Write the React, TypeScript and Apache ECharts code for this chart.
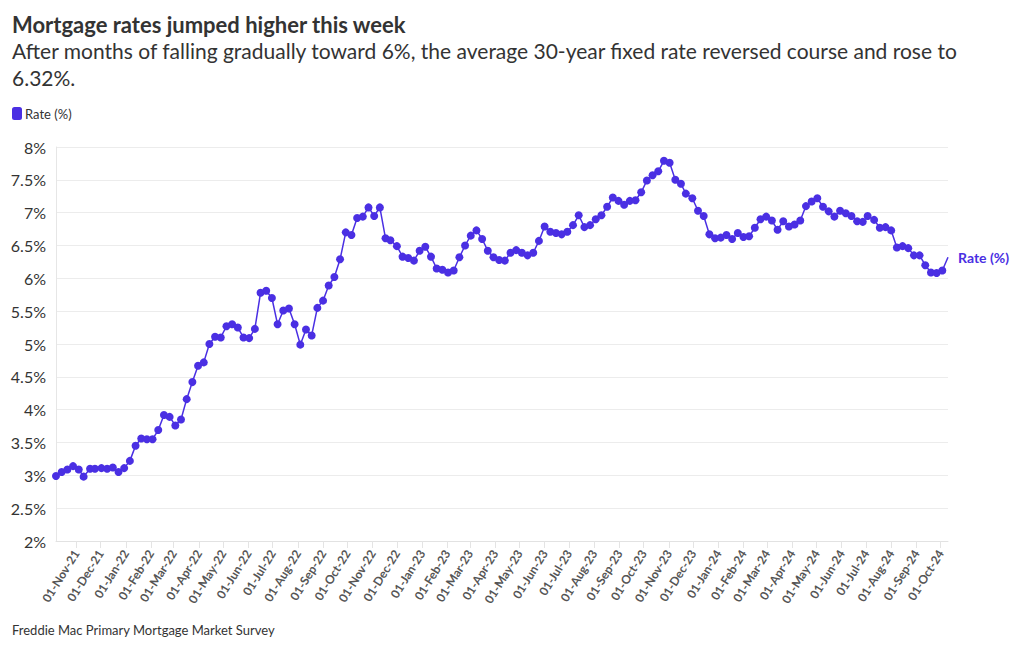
import React, { useEffect, useRef } from "react";
import * as echarts from "echarts";

const TITLE = "Mortgage rates jumped higher this week";
const SUBTITLE =
  "After months of falling gradually toward 6%, the average 30-year fixed rate reversed course and rose to\n6.32%.";
const SOURCE = "Freddie Mac Primary Mortgage Market Survey";
const SERIES_NAME = "Rate (%)";

const dates2021 = ["2021-10-07", "2021-10-14", "2021-10-21", "2021-10-28", "2021-11-04", "2021-11-10", "2021-11-18", "2021-11-24", "2021-12-02", "2021-12-09", "2021-12-16", "2021-12-23", "2021-12-30"];
const rates2021 = [2.99, 3.05, 3.09, 3.14, 3.09, 2.98, 3.1, 3.1, 3.11, 3.1, 3.12, 3.05, 3.11];

const dates2022 = ["2022-01-06", "2022-01-13", "2022-01-20", "2022-01-27", "2022-02-03", "2022-02-10", "2022-02-17", "2022-02-24", "2022-03-03", "2022-03-10", "2022-03-17", "2022-03-24", "2022-03-31", "2022-04-07", "2022-04-14", "2022-04-21", "2022-04-28", "2022-05-05", "2022-05-12", "2022-05-19", "2022-05-26", "2022-06-02", "2022-06-09", "2022-06-16", "2022-06-23", "2022-06-30", "2022-07-07", "2022-07-14", "2022-07-21", "2022-07-28", "2022-08-04", "2022-08-11", "2022-08-18", "2022-08-25", "2022-09-01", "2022-09-08", "2022-09-15", "2022-09-22", "2022-09-29", "2022-10-06", "2022-10-13", "2022-10-20", "2022-10-27", "2022-11-03", "2022-11-10", "2022-11-17", "2022-11-23", "2022-12-01", "2022-12-08", "2022-12-15", "2022-12-22", "2022-12-29"];
const rates2022 = [3.22, 3.45, 3.56, 3.55, 3.55, 3.69, 3.92, 3.89, 3.76, 3.85, 4.16, 4.42, 4.67, 4.72, 5.0, 5.11, 5.1, 5.27, 5.3, 5.25, 5.1, 5.09, 5.23, 5.78, 5.81, 5.7, 5.3, 5.51, 5.54, 5.3, 4.99, 5.22, 5.13, 5.55, 5.66, 5.89, 6.02, 6.29, 6.7, 6.66, 6.92, 6.94, 7.08, 6.95, 7.08, 6.61, 6.58, 6.49, 6.33, 6.31, 6.27, 6.42];

const dates2023 = ["2023-01-05", "2023-01-12", "2023-01-19", "2023-01-26", "2023-02-02", "2023-02-09", "2023-02-16", "2023-02-23", "2023-03-02", "2023-03-09", "2023-03-16", "2023-03-23", "2023-03-30", "2023-04-06", "2023-04-13", "2023-04-20", "2023-04-27", "2023-05-04", "2023-05-11", "2023-05-18", "2023-05-25", "2023-06-01", "2023-06-08", "2023-06-15", "2023-06-22", "2023-06-29", "2023-07-06", "2023-07-13", "2023-07-20", "2023-07-27", "2023-08-03", "2023-08-10", "2023-08-17", "2023-08-24", "2023-08-31", "2023-09-07", "2023-09-14", "2023-09-21", "2023-09-28", "2023-10-05", "2023-10-12", "2023-10-19", "2023-10-26", "2023-11-02", "2023-11-09", "2023-11-16", "2023-11-22", "2023-11-30", "2023-12-07", "2023-12-14", "2023-12-21", "2023-12-28"];
const rates2023 = [6.48, 6.33, 6.15, 6.13, 6.09, 6.12, 6.32, 6.5, 6.65, 6.73, 6.6, 6.42, 6.32, 6.28, 6.27, 6.39, 6.43, 6.39, 6.35, 6.39, 6.57, 6.79, 6.71, 6.69, 6.67, 6.71, 6.81, 6.96, 6.78, 6.81, 6.9, 6.96, 7.09, 7.23, 7.18, 7.12, 7.18, 7.19, 7.31, 7.49, 7.57, 7.63, 7.79, 7.76, 7.5, 7.44, 7.29, 7.22, 7.03, 6.95, 6.67, 6.61];

const dates2024 = ["2024-01-04", "2024-01-11", "2024-01-18", "2024-01-25", "2024-02-01", "2024-02-08", "2024-02-15", "2024-02-22", "2024-02-29", "2024-03-07", "2024-03-14", "2024-03-21", "2024-03-28", "2024-04-04", "2024-04-11", "2024-04-18", "2024-04-25", "2024-05-02", "2024-05-09", "2024-05-16", "2024-05-23", "2024-05-30", "2024-06-06", "2024-06-13", "2024-06-20", "2024-06-27", "2024-07-03", "2024-07-11", "2024-07-18", "2024-07-25", "2024-08-01", "2024-08-08", "2024-08-15", "2024-08-22", "2024-08-29", "2024-09-05", "2024-09-12", "2024-09-19", "2024-09-26", "2024-10-03", "2024-10-10"];
const rates2024 = [6.62, 6.66, 6.6, 6.69, 6.63, 6.64, 6.77, 6.9, 6.94, 6.88, 6.74, 6.87, 6.79, 6.82, 6.88, 7.1, 7.17, 7.22, 7.09, 7.02, 6.94, 7.03, 6.99, 6.95, 6.87, 6.86, 6.95, 6.89, 6.77, 6.78, 6.73, 6.47, 6.49, 6.46, 6.35, 6.35, 6.2, 6.09, 6.08, 6.12, 6.32];

const Y_MIN = 2;
const Y_MAX = 8;
const Y_STEP = 0.5;

const PURPLE = "#4a2fe3";
const FONT = "Lato, 'Noto Sans', sans-serif";
const MONTHS = ["Jan", "Feb", "Mar", "Apr", "May", "Jun", "Jul", "Aug", "Sep", "Oct", "Nov", "Dec"];

export default function App() {
  const ref = useRef<HTMLDivElement>(null);

  useEffect(() => {
    if (!ref.current) return;
    const chart = echarts.init(ref.current, null, { renderer: "svg" });
    const dates = [...dates2021, ...dates2022, ...dates2023, ...dates2024];
    const rates = [...rates2021, ...rates2022, ...rates2023, ...rates2024];
    const data = dates.map((d, i) =>
      i === dates.length - 1
        ? { value: [d, rates[i]], symbol: "none" }
        : { value: [d, rates[i]] }
    );
    const pad = (n: number) => (n < 10 ? "0" + n : "" + n);

    chart.setOption({
      animation: false,
      textStyle: { fontFamily: FONT },
      title: [
        {
          text: TITLE,
          left: 12,
          top: 13,
          padding: 0,
          textStyle: { fontSize: 22, fontWeight: 700, color: "#333333", fontFamily: FONT },
        },
        {
          text: SUBTITLE,
          left: 12,
          top: 37,
          padding: 0,
          textStyle: { fontSize: 21, fontWeight: 400, color: "#333333", lineHeight: 27, fontFamily: FONT },
        },
        {
          text: SOURCE,
          left: 12,
          top: 623,
          padding: 0,
          textStyle: { fontSize: 13, fontWeight: 400, color: "#333333", fontFamily: FONT },
        },
      ],
      legend: {
        left: 12,
        top: 107,
        padding: 0,
        icon: "roundRect",
        itemWidth: 10,
        itemHeight: 13,
        itemGap: 6,
        textStyle: { fontSize: 13, color: "#333333", fontFamily: FONT, padding: [0, 0, 0, -2] },
        data: [{ name: SERIES_NAME, itemStyle: { color: PURPLE } }],
      },
      grid: { left: 56, right: 72, top: 147, bottom: 109, containLabel: false },
      xAxis: {
        type: "time",
        min: dates[0],
        max: dates[dates.length - 1],
        splitNumber: 36,
        minInterval: 28 * 86400000,
        maxInterval: 31 * 86400000,
        axisLine: { show: true, lineStyle: { color: "#e2e2e2" } },
        axisTick: { show: true, length: 7, lineStyle: { color: "#e4e4e4" } },
        splitLine: { show: false },
        axisLabel: {
          rotate: 58,
          interval: 0,
          hideOverlap: false,
          showMinLabel: false,
          showMaxLabel: false,
          fontSize: 12,
          fontWeight: 700,
          color: "#555555",
          fontFamily: FONT,
          margin: 10,
          formatter: (v: number) => {
            const d = new Date(v);
            if (d.getDate() !== 1) return "";
            return pad(d.getDate()) + "-" + MONTHS[d.getMonth()] + "-" + pad(d.getFullYear() % 100);
          },
        },
      },
      yAxis: {
        type: "value",
        min: Y_MIN,
        max: Y_MAX,
        interval: Y_STEP,
        axisLine: { show: true, lineStyle: { color: "#e6e6e6" } },
        axisTick: { show: false },
        splitLine: { show: true, lineStyle: { color: "#ececec" } },
        axisLabel: {
          fontSize: 16,
          color: "#333333",
          fontFamily: FONT,
          margin: 10,
          formatter: (v: number) => v + "%",
        },
      },
      series: [
        {
          name: SERIES_NAME,
          type: "line",
          data,
          symbol: "circle",
          symbolSize: 8,
          showSymbol: true,
          showAllSymbol: true,
          itemStyle: { color: PURPLE },
          lineStyle: { color: PURPLE, width: 1.5 },
          endLabel: {
            show: true,
            formatter: SERIES_NAME,
            color: PURPLE,
            fontWeight: 700,
            fontSize: 14,
            fontFamily: FONT,
            distance: 10,
          },
        },
      ],
    });

    return () => chart.dispose();
  }, []);

  return (
    <div
      ref={ref}
      style={{ position: "fixed", left: 0, top: 0, width: 1020, height: 650, background: "#ffffff" }}
    />
  );
}
